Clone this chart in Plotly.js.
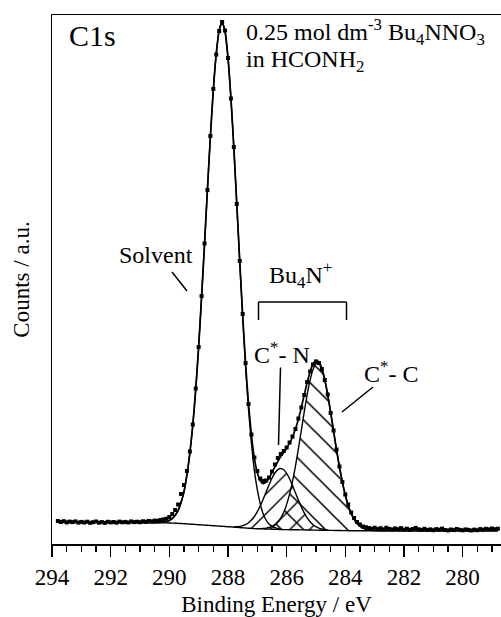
<!DOCTYPE html>
<html><head><meta charset="utf-8">
<script src="https://cdn.plot.ly/plotly-3.0.1.min.js"></script>
<style>html,body{margin:0;padding:0;background:#fff;} #chart{width:501px;height:617px;}</style>
</head><body><div id="chart"></div>
<script>
// Binding energy grid of the measured spectrum (eV)
const energy = [
293.8,293.7,293.6,293.5,293.4,293.3,293.2,293.1,293.0,292.9,
292.8,292.7,292.6,292.5,292.4,292.3,292.2,292.1,292.0,291.9,
291.8,291.7,291.6,291.5,291.4,291.3,291.2,291.1,291.0,290.9,
290.8,290.7,290.6,290.5,290.4,290.3,290.2,290.1,290.0,289.9,
289.8,289.7,289.6,289.5,289.4,289.3,289.2,289.1,289.0,288.9,
288.8,288.7,288.6,288.5,288.4,288.3,288.2,288.1,288.0,287.9,
287.8,287.7,287.6,287.5,287.4,287.3,287.2,287.1,287.0,286.9,
286.8,286.7,286.6,286.5,286.4,286.3,286.2,286.1,286.0,285.9,
285.8,285.7,285.6,285.5,285.4,285.3,285.2,285.1,285.0,284.9,
284.8,284.7,284.6,284.5,284.4,284.3,284.2,284.1,284.0,283.9,
283.8,283.7,283.6,283.5,283.4,283.3,283.2,283.1,283.0,282.9,
282.8,282.7,282.6,282.5,282.4,282.3,282.2,282.1,282.0,281.9,
281.8,281.7,281.6,281.5,281.4,281.3,281.2,281.1,281.0,280.9,
280.8,280.7,280.6,280.5,280.4,280.3,280.2,280.1,280.0,279.9,
279.8,279.7,279.6,279.5,279.4,279.3,279.2,279.1,279.0,278.9,
278.8];
// Measured counts (a.u.)
const rawCounts = [
23.0,22.0,22.8,21.6,22.4,21.9,22.6,21.4,22.1,21.5,
22.3,21.2,21.8,22.5,21.3,21.9,21.1,22.2,21.6,22.0,
21.3,22.4,21.7,22.1,21.5,22.6,21.9,22.3,21.8,22.7,
22.2,23.1,22.6,23.4,23.2,24.0,24.6,25.3,27.0,30.0,
34.0,39.5,50.0,59.0,73.0,92.5,119.5,155.5,197.0,248.0,
300.5,354.0,408.0,455.0,489.5,513.0,522.0,513.5,486.0,445.5,
397.0,340.0,283.0,230.0,181.0,140.0,109.5,86.5,73.0,65.5,
63.0,63.5,66.5,72.5,79.5,86.0,90.0,93.0,96.5,101.5,
107.5,115.0,125.5,136.5,149.0,162.0,172.5,179.5,182.5,181.0,
175.0,164.0,149.5,131.0,113.5,94.5,77.5,62.0,49.5,39.5,
31.5,26.0,22.0,19.5,17.5,16.8,16.0,15.2,16.3,15.0,
15.8,14.6,16.2,15.1,14.5,15.6,14.8,15.9,14.4,15.3,
14.2,15.0,16.1,14.7,14.1,15.2,14.0,14.6,13.8,14.9,
14.3,15.4,14.0,13.6,14.5,13.9,15.0,14.2,13.7,14.6,
14.1,13.5,14.4,13.8,14.9,14.3,15.2,14.6,15.5,14.8,
15.3];
// Background (a.u.) on the same grid
const background = [
22.5,22.5,22.4,22.4,22.3,22.3,22.2,22.2,22.1,22.1,
22.0,22.0,22.0,21.9,21.9,21.9,21.8,21.8,21.8,21.7,
21.7,21.7,21.6,21.6,21.6,21.5,21.5,21.5,21.5,21.4,
21.4,21.4,21.3,21.3,21.3,21.2,21.2,21.1,21.0,20.9,
20.8,20.6,20.5,20.3,20.1,19.9,19.7,19.5,19.3,19.1,
18.9,18.7,18.5,18.3,18.1,17.9,17.7,17.5,17.3,17.1,
16.9,16.6,16.4,16.2,16.0,15.8,15.6,15.4,15.3,15.2,
15.1,15.0,14.9,14.8,14.7,14.6,14.5,14.4,14.4,14.3,
14.3,14.2,14.2,14.1,14.1,14.0,14.0,13.9,13.9,13.8,
13.8,13.7,13.7,13.6,13.6,13.5,13.5,13.4,13.4,13.3,
13.3,13.3,13.3,13.3,13.3,13.3,13.3,13.3,13.3,13.3,
13.3,13.3,13.3,13.3,13.3,13.3,13.3,13.3,13.3,13.3,
13.3,13.3,13.3,13.3,13.3,13.3,13.3,13.3,13.3,13.3,
13.3,13.3,13.3,13.3,13.3,13.3,13.3,13.3,13.3,13.3,
13.3,13.3,13.3,13.3,13.3,13.3,13.3,13.3,13.3,13.3,
13.3];
// Fitted components (height above background, a.u.)
const solventEnergy = [
290.4,290.3,290.2,290.1,290.0,289.9,289.8,289.7,289.6,289.5,
289.4,289.3,289.2,289.1,289.0,288.9,288.8,288.7,288.6,288.5,
288.4,288.3,288.2,288.1,288.0,287.9,287.8,287.7,287.6,287.5,
287.4,287.3,287.2,287.1,287.0,286.9,286.8,286.7,286.6,286.5,
286.4,286.3,286.2];
const solventPeak = [
0.2,0.4,0.8,1.4,2.6,4.6,7.9,13.0,21.0,32.0,
49.0,71.0,99.0,135.0,178.0,228.0,281.0,336.0,389.0,436.0,
472.0,496.0,504.0,495.0,469.0,429.0,379.0,323.0,266.0,211.0,
161.0,119.0,85.0,58.0,39.0,25.0,15.0,9.0,5.0,3.0,
1.6,0.8,0.4];
const cnEnergy = [
287.8,287.7,287.6,287.5,287.4,287.3,287.2,287.1,287.0,286.9,
286.8,286.7,286.6,286.5,286.4,286.3,286.2,286.1,286.0,285.9,
285.8,285.7,285.6,285.5,285.4,285.3,285.2,285.1,285.0,284.9,
284.8,284.7,284.6];
const cnPeak = [
0.35,0.7,1.2,2.1,3.4,5.4,8.3,12.1,17.0,22.9,
29.7,37.0,44.3,51.0,56.3,59.8,61.0,59.8,56.3,51.0,
44.3,37.0,29.7,22.9,17.0,12.1,8.3,5.4,3.4,2.1,
1.2,0.7,0.35];
const ccEnergy = [
286.9,286.8,286.7,286.6,286.5,286.4,286.3,286.2,286.1,286.0,
285.9,285.8,285.7,285.6,285.5,285.4,285.3,285.2,285.1,285.0,
284.9,284.8,284.7,284.6,284.5,284.4,284.3,284.2,284.1,284.0,
283.9,283.8,283.7,283.6,283.5,283.4,283.3,283.2,283.1,283.0];
const ccPeak = [
0.2,0.5,0.9,1.6,2.7,4.5,7.3,11.5,17.3,25.2,
35.5,48.4,63.7,80.9,99.4,118.0,135.4,150.0,160.7,166.3,
166.3,160.7,150.0,135.4,118.0,99.4,80.9,63.7,48.4,35.5,
25.2,17.3,11.5,7.3,4.5,2.7,1.6,0.9,0.5,0.2];

const key = e => e.toFixed(1);
const bgMap = {}; energy.forEach((e,i)=>{ bgMap[key(e)] = background[i]; });
function compMap(E,P){ const m={}; E.forEach((e,i)=>{ m[key(e)] = P[i]; }); return m; }
const sM = compMap(solventEnergy, solventPeak);
const cnM = compMap(cnEnergy, cnPeak);
const ccM = compMap(ccEnergy, ccPeak);
function absolute(E,P){ return E.map((e,i)=> bgMap[key(e)] + P[i]); }
function polygon(E,P){
  const top = absolute(E,P);
  const base = E.map(e=>bgMap[key(e)]);
  return {x: E.concat(E.slice().reverse()), y: top.concat(base.slice().reverse())};
}
const envelope = energy.map((e,i)=> background[i] + (sM[key(e)]||0) + (cnM[key(e)]||0) + (ccM[key(e)]||0));

const cnPoly = polygon(cnEnergy, cnPeak);
const ccPoly = polygon(ccEnergy, ccPeak);
const lineStyle = w => ({color:'#000', width:w, shape:'spline', smoothing:0.6});

const traces = [
  {x:cnPoly.x, y:cnPoly.y, mode:'none', fill:'toself', fillcolor:'rgba(0,0,0,0)',
   fillpattern:{shape:'/', size:14, solidity:0.1, fgcolor:'#000', fgopacity:1, bgcolor:'rgba(0,0,0,0)', fillmode:'overlay'},
   hoverinfo:'skip', showlegend:false},
  {x:ccPoly.x, y:ccPoly.y, mode:'none', fill:'toself', fillcolor:'rgba(0,0,0,0)',
   fillpattern:{shape:'\\', size:15.5, solidity:0.1, fgcolor:'#000', fgopacity:1, bgcolor:'rgba(0,0,0,0)', fillmode:'overlay'},
   hoverinfo:'skip', showlegend:false},
  {x:energy, y:background, mode:'lines', line:lineStyle(1.4), name:'Background'},
  {x:solventEnergy, y:absolute(solventEnergy, solventPeak), mode:'lines', line:lineStyle(1.4), name:'Solvent'},
  {x:cnEnergy, y:absolute(cnEnergy, cnPeak), mode:'lines', line:lineStyle(1.4), name:'C*-N'},
  {x:ccEnergy, y:absolute(ccEnergy, ccPeak), mode:'lines', line:lineStyle(1.4), name:'C*-C'},
  {x:energy, y:envelope, mode:'lines', line:lineStyle(1.7), name:'Fit'},
  {x:energy, y:rawCounts, mode:'markers', marker:{symbol:'square', size:4, color:'#000'}, name:'Data'}
];

const L = 52, T = 15, W = 449, H = 529;
const PX = x => (x - L) / W;
const PY = y => (T + H - y) / H;
const serif = 'Liberation Serif, "Times New Roman", serif';
function label(text, x, y, size){
  return {text:text, xref:'paper', yref:'paper', x:PX(x), y:PY(y), xanchor:'left', yanchor:'middle',
          showarrow:false, borderpad:0, font:{family:serif, size:size, color:'#000'}};
}
function seg(x0,y0,x1,y1){
  return {type:'line', xref:'paper', yref:'paper', x0:PX(x0), y0:PY(y0), x1:PX(x1), y1:PY(y1),
          line:{color:'#000', width:1.5}};
}

const layout = {
  width:501, height:617,
  margin:{l:L, r:0, t:T, b:617-T-H},
  paper_bgcolor:'#fff', plot_bgcolor:'#fff', showlegend:false,
  font:{family:serif, color:'#000', size:23},
  xaxis:{range:[294, 294 - W/29.33], autorange:false, tickmode:'linear', tick0:294, dtick:2,
    ticks:'outside', ticklen:11.5, tickwidth:1.5, tickcolor:'#000',
    minor:{tick0:294, dtick:0.5, ticks:'outside', ticklen:6, tickwidth:1.3, tickcolor:'#000'},
    showline:true, linecolor:'#000', linewidth:1.5, mirror:true, showgrid:false, zeroline:false,
    tickfont:{family:serif, size:23, color:'#000'}, automargin:false,
    title:{text:'Binding Energy / eV', font:{family:serif, size:23, color:'#000'}, standoff:9}},
  yaxis:{range:[0, H], autorange:false, showticklabels:false, ticks:'', showline:true, mirror:true,
    linecolor:'#000', linewidth:1.5, showgrid:false, zeroline:false, automargin:false,
    title:{text:'Counts / a.u.', font:{family:serif, size:23, color:'#000'}, standoff:14}},
  annotations:[
    label('C1s', 68, 35, 30),
    label('0.25 mol dm<sup>-3</sup> Bu<sub>4</sub>NNO<sub>3</sub>', 245, 32, 24),
    label('in HCONH<sub>2</sub>', 245, 61, 24),
    label('Solvent', 118, 255, 24),
    label('Bu<sub>4</sub>N<sup>+</sup>', 268, 275, 24),
    label('C<sup>*</sup>- N', 253, 353, 24),
    label('C<sup>*</sup>- C', 363, 372, 24)
  ],
  shapes:[
    seg(172,272,187,291),
    seg(280.5,367.5,278.5,445),
    seg(373,387,342,412),
    seg(258.5,320,258.5,302),
    seg(258.5,302,346.5,302),
    seg(346.5,302,346.5,320)
  ]
};
Plotly.newPlot('chart', traces, layout, {staticPlot:true, displayModeBar:false});
</script></body></html>
